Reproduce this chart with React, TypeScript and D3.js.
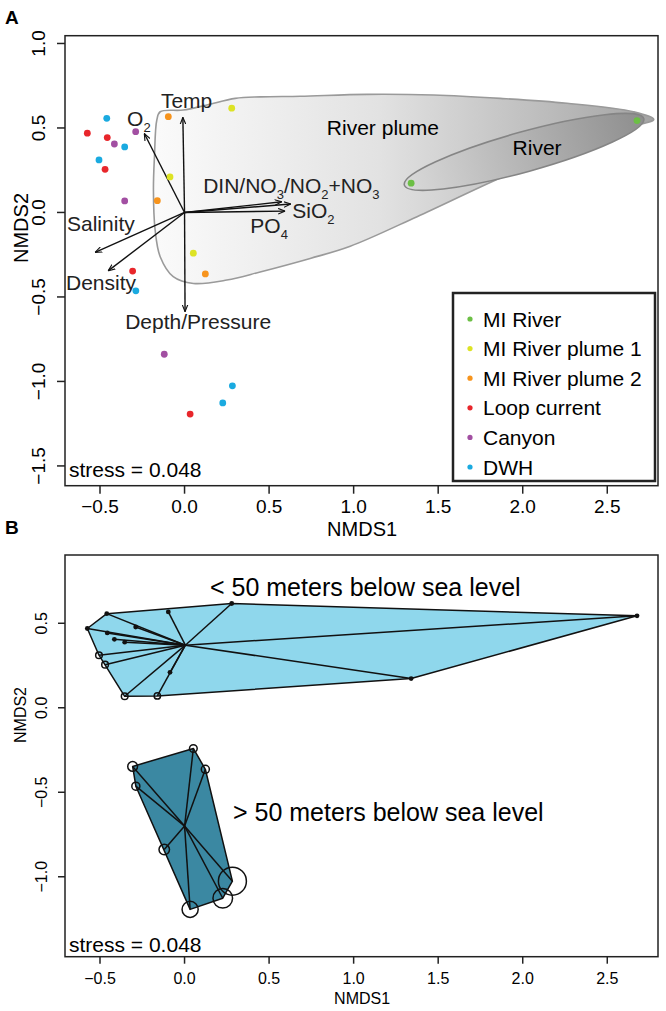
import * as d3 from "d3";

// ---- data ----
const groups = ["MI River", "MI River plume 1", "MI River plume 2", "Loop current", "Canyon", "DWH"];
const groupColors = ["#6cbf45", "#dde325", "#f7941d", "#e8262b", "#a24fa2", "#1aaae0"];

// NMDS scores of the 23 samples
const sampleX = [-0.575, -0.46, -0.096, 0.279, -0.289, -0.457, -0.415, -0.354, -0.506, -0.47, -0.354, -0.161, -0.086, 1.34, 2.676,
  0.052, 0.123, -0.307, -0.288, -0.12, 0.283, 0.226, 0.033];
const sampleY = [0.469, 0.557, 0.567, 0.617, 0.478, 0.443, 0.405, 0.388, 0.311, 0.255, 0.068, 0.07, 0.21, 0.173, 0.544,
  -0.241, -0.364, -0.347, -0.464, -0.839, -1.026, -1.127, -1.193];
const sampleGroup = [3, 5, 2, 1, 4, 3, 4, 5, 5, 3, 4, 2, 1, 0, 0, 1, 2, 3, 5, 4, 5, 5, 3];
// 0 = < 50 m below sea level, 1 = > 50 m
const sampleZone = [0, 0, 0, 0, 0, 0, 0, 0, 0, 0, 0, 0, 0, 0, 0, 1, 1, 1, 1, 1, 1, 1, 1];
// relative symbol size in panel B (0 = small filled dot)
const sampleBubble = [0, 0, 0, 0, 0, 0, 0, 0, 0.95, 0.95, 0.95, 0.9, 0, 0, 0, 1.1, 1.15, 1.4, 1.15, 1.5, 4, 2.8, 2.3];

// fitted environmental vectors
const envNames = ["Temp", "O2", "DIN", "SiO2", "PO4", "Salinity", "Density", "Depth/Pressure"];
const envX = [-0.01, -0.238, 0.575, 0.628, 0.595, -0.529, -0.452, 0.003];
const envY = [0.563, 0.467, 0.063, 0.05, 0.008, -0.236, -0.346, -0.587];
// label anchors (data units)
const envLabelX = [0.012, -0.34, 0.11, 0.637, 0.389, -0.695, -0.701, -0.351];
const envLabelY = [0.665, 0.558, 0.162, 0.014, -0.075, -0.063, -0.412, -0.648];

// "River plume" outline (data units)
const plumeX = [-0.144, -0.008, 0.132, 0.3, 0.45, 0.684, 1.079, 1.473, 1.867, 2.262, 2.654, 2.775, 2.558, 2.262, 1.867,
  1.375, 0.98, 0.743, 0.447, 0.25, 0.053, -0.067, -0.144, -0.174, -0.184, -0.178, -0.164];
const plumeY = [0.596, 0.606, 0.636, 0.675, 0.684, 0.688, 0.699, 0.695, 0.675, 0.646, 0.596, 0.551, 0.488, 0.369, 0.204,
  -0.025, -0.2, -0.272, -0.352, -0.4, -0.42, -0.38, -0.262, -0.104, 0.133, 0.33, 0.547];

const xTicks = [-0.5, 0, 0.5, 1, 1.5, 2, 2.5];
const yTicksA = [1, 0.5, 0, -0.5, -1, -1.5];
const yTicksB = [0.5, 0, -0.5, -1];

const font = "'Liberation Sans', Arial, Helvetica, sans-serif";
const fmt = (v: number) => d3.format(".1f")(v).replace("-", "\u2212");

export default function App() {
  const left = 65, right = 658;
  const xA = d3.scaleLinear().domain([-0.707, 2.8]).range([left, right]);
  const yA = d3.scaleLinear().domain([-1.617, 1.046]).range([485.7, 35.7]);
  const xB = xA.copy();
  const yB = d3.scaleLinear().domain([-1.473, 0.904]).range([956.7, 555]);

  const samples = sampleX.map((x, i) => ({
    x, y: sampleY[i], g: sampleGroup[i], zone: sampleZone[i], bubble: sampleBubble[i],
  }));

  // plume outline
  const plumePts = plumeX.map((x, i) => [x, plumeY[i]] as [number, number]);
  const plumePath = d3.line<[number, number]>()
    .x((d) => xA(d[0])).y((d) => yA(d[1]))
    .curve(d3.curveCatmullRomClosed.alpha(0.5))(plumePts) as string;

  // river ellipse around the two MI River samples
  const river = samples.filter((s) => s.g === 0);
  const p1 = [xA(river[0].x), yA(river[0].y)];
  const p2 = [xA(river[1].x), yA(river[1].y)];
  const ecx = (p1[0] + p2[0]) / 2, ecy = (p1[1] + p2[1]) / 2;
  const eang = (Math.atan2(p2[1] - p1[1], p2[0] - p1[0]) * 180) / Math.PI;
  const erx = Math.hypot(p2[0] - p1[0], p2[1] - p1[1]) / 2 + 7;
  const ery = 20;

  const ox = xA(0), oy = yA(0);

  // panel B: hulls and spiders per depth zone
  const zones = [0, 1].map((z) => {
    const pts = samples.filter((s) => s.zone === z);
    const cx = d3.mean(pts, (s) => s.x) as number;
    const cy = d3.mean(pts, (s) => s.y) as number;
    const hull = d3.polygonHull(pts.map((s) => [xB(s.x), yB(s.y)] as [number, number])) as [number, number][];
    return { pts, cx, cy, hull };
  });
  const zoneFill = ["#8fd7ec", "#3b88a2"];
  const bubbleR = d3.scaleLinear().domain([0, 1]).range([0, 3.5]);

  const legendY = (i: number) => 319 + i * 29.6;

  return (
    <svg width={666} height={1011} style={{ position: "absolute", left: 0, top: 0, background: "#fff" }} fontFamily={font}>
      <defs>
        <linearGradient id="plumeGrad" gradientUnits="userSpaceOnUse" x1={150} y1={0} x2={660} y2={0}>
          <stop offset="0" stopColor="#fbfbfb" />
          <stop offset="0.45" stopColor="#e2e2e2" />
          <stop offset="1" stopColor="#a2a2a2" />
        </linearGradient>
        <linearGradient id="riverGrad" gradientUnits="userSpaceOnUse" x1={-erx} y1={0} x2={erx} y2={0}>
          <stop offset="0" stopColor="#d9d9d9" />
          <stop offset="1" stopColor="#8e8e8e" />
        </linearGradient>
        <marker id="arr" viewBox="0 0 10 10" refX={10} refY={5} markerWidth={7} markerHeight={7}
          markerUnits="userSpaceOnUse" orient="auto">
          <path d="M0,1 L10,5 L0,9" fill="none" stroke="#111" strokeWidth={1.6} />
        </marker>
      </defs>

      {/* ---------------- Panel A ---------------- */}
      <text x={5} y={23.5} fontSize={19} fontWeight="bold">A</text>

      <path d={plumePath} fill="url(#plumeGrad)" stroke="#9a9a9a" strokeWidth={1.6} />
      <g transform={`translate(${ecx},${ecy}) rotate(${eang})`}>
        <ellipse rx={erx} ry={ery} fill="url(#riverGrad)" stroke="#858585" strokeWidth={1.6} />
      </g>
      <text x={xA(1.173)} y={yA(0.505)} fontSize={21} textAnchor="middle" dominantBaseline="central">River plume</text>
      <text x={xA(2.085)} y={yA(0.385)} fontSize={21} textAnchor="middle" dominantBaseline="central">River</text>

      {envNames.map((n, i) => (
        <line key={n} x1={ox} y1={oy} x2={xA(envX[i])} y2={yA(envY[i])} stroke="#111" strokeWidth={1.4} markerEnd="url(#arr)" />
      ))}

      {samples.map((s, i) => (
        <circle key={i} cx={xA(s.x)} cy={yA(s.y)} r={3.4} fill={groupColors[s.g]} />
      ))}

      <g fontSize={21} fill="#222">
        <text x={xA(envLabelX[0])} y={yA(envLabelY[0])} textAnchor="middle" dominantBaseline="central">Temp</text>
        <text x={xA(envLabelX[1])} y={yA(envLabelY[1]) + 7.5}>
          O<tspan fontSize={13} dy={6}>2</tspan>
        </text>
        <text x={xA(envLabelX[2])} y={yA(envLabelY[2]) + 7.5}>
          DIN/NO<tspan fontSize={13} dy={6}>3</tspan>
          <tspan dy={-6}>/NO</tspan><tspan fontSize={13} dy={6}>2</tspan>
          <tspan dy={-6}>+NO</tspan><tspan fontSize={13} dy={6}>3</tspan>
        </text>
        <text x={xA(envLabelX[3])} y={yA(envLabelY[3]) + 7.5}>
          SiO<tspan fontSize={13} dy={6}>2</tspan>
        </text>
        <text x={xA(envLabelX[4])} y={yA(envLabelY[4]) + 7.5}>
          PO<tspan fontSize={13} dy={6}>4</tspan>
        </text>
        <text x={xA(envLabelX[5])} y={yA(envLabelY[5])} dominantBaseline="central">Salinity</text>
        <text x={xA(envLabelX[6])} y={yA(envLabelY[6])} dominantBaseline="central">Density</text>
        <text x={xA(envLabelX[7])} y={yA(envLabelY[7])} dominantBaseline="central">Depth/Pressure</text>
      </g>

      {/* legend */}
      <rect x={453} y={293} width={202} height={188} fill="#fff" stroke="#222" strokeWidth={2.5} />
      {groups.map((g, i) => (
        <g key={g}>
          <circle cx={470} cy={legendY(i)} r={2.6} fill={groupColors[i]} />
          <text x={483} y={legendY(i)} fontSize={21} dominantBaseline="central">{g}</text>
        </g>
      ))}

      <text x={69} y={477} fontSize={21}>stress = 0.048</text>

      <rect x={left} y={35.7} width={right - left} height={450} fill="none" stroke="#222" strokeWidth={1.5} />
      {xTicks.map((t) => (
        <g key={t}>
          <line x1={xA(t)} x2={xA(t)} y1={485.7} y2={493.7} stroke="#222" strokeWidth={1.5} />
          <text x={xA(t)} y={512.5} fontSize={19} textAnchor="middle">{fmt(t)}</text>
        </g>
      ))}
      {yTicksA.map((t) => (
        <g key={t}>
          <line x1={left - 8} x2={left} y1={yA(t)} y2={yA(t)} stroke="#222" strokeWidth={1.5} />
          <text transform={`translate(45,${yA(t)}) rotate(-90)`} fontSize={19} textAnchor="middle">{fmt(t)}</text>
        </g>
      ))}
      <text x={xA(1.05)} y={536} fontSize={20} textAnchor="middle">NMDS1</text>
      <text transform={`translate(28,228) rotate(-90)`} fontSize={20} textAnchor="middle">NMDS2</text>

      {/* ---------------- Panel B ---------------- */}
      <text x={5} y={534} fontSize={19} fontWeight="bold">B</text>

      {zones.map((z, zi) => (
        <g key={zi}>
          <path d={`M${z.hull.join("L")}Z`} fill={zoneFill[zi]} stroke="#111" strokeWidth={1.5} strokeLinejoin="round" />
          {z.pts.map((s, i) => (
            <line key={i} x1={xB(z.cx)} y1={yB(z.cy)} x2={xB(s.x)} y2={yB(s.y)} stroke="#111" strokeWidth={1.5} />
          ))}
          {z.pts.map((s, i) =>
            s.bubble === 0 ? (
              <circle key={"p" + i} cx={xB(s.x)} cy={yB(s.y)} r={2.4} fill="#111" />
            ) : (
              <circle key={"p" + i} cx={xB(s.x)} cy={yB(s.y)} r={bubbleR(s.bubble)} fill="none" stroke="#111" strokeWidth={1.5} />
            )
          )}
        </g>
      ))}

      <text x={210} y={596} fontSize={25}>&lt; 50 meters below sea level</text>
      <text x={233} y={821} fontSize={25}>&gt; 50 meters below sea level</text>
      <text x={69} y={952} fontSize={21}>stress = 0.048</text>

      <rect x={left} y={555} width={right - left} height={401.7} fill="none" stroke="#222" strokeWidth={1.5} />
      {xTicks.map((t) => (
        <g key={t}>
          <line x1={xB(t)} x2={xB(t)} y1={956.7} y2={963.7} stroke="#222" strokeWidth={1.5} />
          <text x={xB(t)} y={984} fontSize={16} textAnchor="middle">{fmt(t)}</text>
        </g>
      ))}
      {yTicksB.map((t) => (
        <g key={t}>
          <line x1={left - 7} x2={left} y1={yB(t)} y2={yB(t)} stroke="#222" strokeWidth={1.5} />
          <text transform={`translate(47,${yB(t)}) rotate(-90)`} fontSize={16} textAnchor="middle">{fmt(t)}</text>
        </g>
      ))}
      <text x={xB(1.05)} y={1004} fontSize={16} textAnchor="middle">NMDS1</text>
      <text transform={`translate(26,715) rotate(-90)`} fontSize={16} textAnchor="middle">NMDS2</text>
    </svg>
  );
}
